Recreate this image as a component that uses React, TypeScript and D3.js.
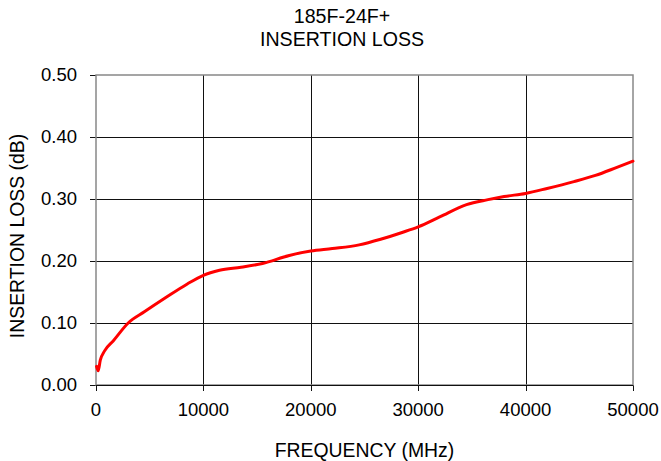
import * as d3 from 'd3';
import React from 'react';

// frequency (MHz) and insertion loss (dB)
const freqs = [
  50, 200, 400, 800, 1600, 3000, 4500, 6500, 8500, 10000, 11500, 13500, 15500, 18000, 20000,
  22000, 24500, 26500, 28500, 30000, 32000, 34500, 36500, 38000, 40000, 42000, 44500, 46500,
  48500, 50000,
];
const loss = [
  0.030, 0.023, 0.040, 0.055, 0.071, 0.100, 0.118, 0.141, 0.163, 0.177, 0.185, 0.190, 0.196,
  0.209, 0.216, 0.220, 0.226, 0.235, 0.246, 0.255, 0.271, 0.291, 0.299, 0.304, 0.309, 0.317,
  0.328, 0.338, 0.351, 0.361,
];
const xTicks = [0, 10000, 20000, 30000, 40000, 50000];
const yTicks = [0, 0.1, 0.2, 0.3, 0.4, 0.5];
const titleLines = ['185F-24F+', 'INSERTION LOSS'];
const xLabel = 'FREQUENCY (MHz)';
const yLabel = 'INSERTION LOSS (dB)';

const width = 661;
const height = 461;
const margin = { top: 75, right: 28, bottom: 76, left: 96 };
const font = '"Liberation Sans", Arial, sans-serif';

export default function App() {
  const x = d3.scaleLinear().domain([0, 50000]).range([margin.left, width - margin.right]);
  const y = d3.scaleLinear().domain([0, 0.5]).range([height - margin.bottom, margin.top]);

  const points: [number, number][] = freqs.map((f, i) => [f, loss[i]]);
  const line = d3
    .line<[number, number]>()
    .x((d) => x(d[0]))
    .y((d) => y(d[1]))
    .curve(d3.curveMonotoneX);

  const [x0, x1] = x.range();
  const [y0, y1] = y.range();

  return (
    <svg
      width={width}
      height={height}
      style={{ position: 'absolute', left: 0, top: 0, background: '#fff' }}
      fontFamily={font}
    >
      {titleLines.map((t, i) => (
        <text key={t} x={342} y={23 + i * 23} textAnchor='middle' fontSize={19.6} fill='#000'>
          {t}
        </text>
      ))}

      {/* grid */}
      {xTicks.slice(1, -1).map((t) => (
        <line key={'gx' + t} x1={Math.round(x(t)) + 0.5} x2={Math.round(x(t)) + 0.5} y1={y1} y2={y0} stroke='#111' />
      ))}
      {yTicks.slice(1, -1).map((t) => (
        <line key={'gy' + t} x1={x0} x2={x1} y1={Math.round(y(t)) + 0.5} y2={Math.round(y(t)) + 0.5} stroke='#111' />
      ))}

      {/* ticks */}
      {xTicks.map((t) => (
        <g key={'xt' + t}>
          <line x1={Math.round(x(t)) + 0.5} x2={Math.round(x(t)) + 0.5} y1={y0} y2={y0 + 6} stroke='#111' />
          <text x={x(t)} y={y0 + 31} textAnchor='middle' fontSize={18.5} fill='#000'>
            {t}
          </text>
        </g>
      ))}
      {yTicks.map((t) => (
        <g key={'yt' + t}>
          <line x1={x0 - 6} x2={x0} y1={Math.round(y(t)) + 0.5} y2={Math.round(y(t)) + 0.5} stroke='#111' />
          <text x={x0 - 19} y={y(t) + 6} textAnchor='end' fontSize={18.5} fill='#000'>
            {t.toFixed(2)}
          </text>
        </g>
      ))}

      {/* frame */}
      <rect x={x0} y={y1} width={x1 - x0} height={y0 - y1} fill='none' stroke='#888' strokeWidth={1.5} />
      <line x1={x0} x2={x1} y1={y0 + 0.5} y2={y0 + 0.5} stroke='#111' />

      <path d={line(points) ?? ''} fill='none' stroke='#ff0000' strokeWidth={3} strokeLinejoin='round' strokeLinecap='round' />

      <text x={(x0 + x1) / 2} y={457} textAnchor='middle' fontSize={19.4} fill='#000'>
        {xLabel}
      </text>
      <text
        transform={`translate(24, ${(y0 + y1) / 2 + 6}) rotate(-90)`}
        textAnchor='middle'
        fontSize={19.4}
        fill='#000'
      >
        {yLabel}
      </text>
    </svg>
  );
}
